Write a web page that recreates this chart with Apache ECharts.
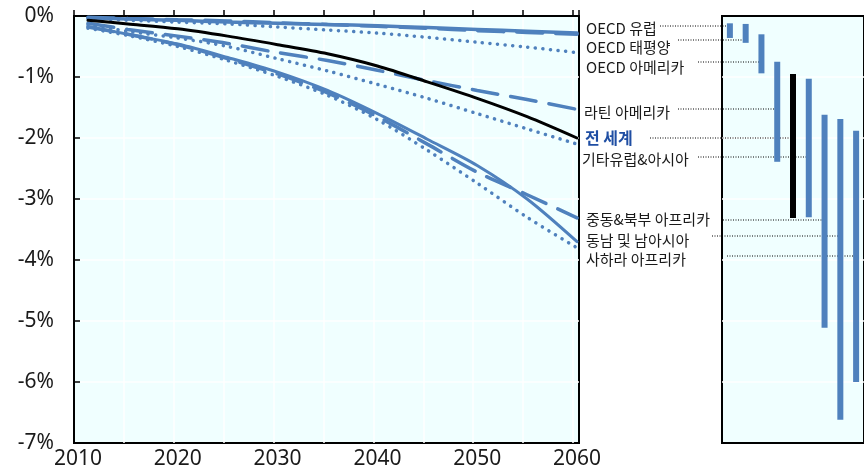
<!DOCTYPE html>
<html>
<head>
<meta charset="utf-8">
<script src="https://cdn.jsdelivr.net/npm/echarts@6/dist/echarts.min.js"></script>
<style>
  html, body { margin: 0; padding: 0; background: #fff; }
  #main { width: 864px; height: 475px; }
</style>
</head>
<body>
<div id="main"></div>
<script>
var dom = document.getElementById('main');
var myChart = echarts.init(dom, null, { renderer: 'canvas' });

// years of the line points
var years = [2011, 2015, 2020, 2025, 2030, 2035, 2040, 2045, 2050, 2055, 2060];
var yearLabels = [2010, 2020, 2030, 2040, 2050, 2060];

// line series, % change
var oecdEurope   = [-0.03, -0.05, -0.07, -0.1, -0.12, -0.14, -0.16, -0.19, -0.22, -0.25, -0.28];
var oecdPacific  = [-0.02, -0.04, -0.06, -0.08, -0.11, -0.14, -0.17, -0.2, -0.24, -0.27, -0.3];
var oecdAmerica  = [-0.04, -0.07, -0.1, -0.13, -0.18, -0.23, -0.28, -0.35, -0.43, -0.51, -0.6];
var latinAmerica = [-0.12, -0.22, -0.33, -0.45, -0.6, -0.73, -0.89, -1.06, -1.22, -1.37, -1.53];
var world        = [-0.07, -0.13, -0.21, -0.33, -0.47, -0.62, -0.82, -1.08, -1.35, -1.65, -2.0];
var otherEurAsia = [-0.14, -0.25, -0.36, -0.5, -0.7, -0.9, -1.12, -1.35, -1.6, -1.85, -2.1];
var meNorthAfr   = [-0.18, -0.3, -0.47, -0.7, -0.95, -1.26, -1.65, -2.1, -2.56, -2.93, -3.31];
var southAsia    = [-0.17, -0.3, -0.46, -0.68, -0.92, -1.22, -1.6, -2.02, -2.45, -3.0, -3.7];
var subSahara    = [-0.2, -0.32, -0.5, -0.73, -0.99, -1.3, -1.7, -2.2, -2.74, -3.3, -3.8];

// right panel: ranges
var regions = ['OECD 유럽', 'OECD 태평양', 'OECD 아메리카', '라틴 아메리카', '전 세계',
               '기타유럽&아시아', '중동&북부 아프리카', '동남 및 남아시아', '사하라 아프리카'];
var rangeTop    = [-0.12, -0.13, -0.30, -0.75, -0.95, -1.03, -1.62, -1.69, -1.88];
var rangeBottom = [-0.36, -0.44, -0.94, -2.39, -3.31, -3.30, -5.11, -6.62, -6.00];

// label layout (pixels): text centre y, leader y, leader start x, text x
var labelTextY  = [28, 47, 67, 112, 138, 159, 219, 240, 259];
var leaderY     = [26, 40, 62, 109, 138, 157, 220, 236, 256];
var leaderX0    = [660, 678, 698, 678, 650, 698, 723, 712, 727];
var labelX      = [586, 586, 586, 584, 585, 582, 586, 586, 586];

var gridTop = 16;
var panelLeft = 722;

var blue = '#4f81bd';
var dotStyle = [0.1, 7.5];
var dashStyle = [26, 13];

function pairs(vals) {
  return years.map(function (y, i) { return [y, vals[i]]; });
}

function lineSeries(name, vals, color, type, width) {
  return {
    name: name,
    type: 'line',
    xAxisIndex: 0,
    yAxisIndex: 0,
    data: pairs(vals),
    smooth: 0.3,
    showSymbol: false,
    lineStyle: { color: color, width: width, type: type, cap: 'round' },
    z: color === '#000' ? 5 : 3
  };
}

var option = {
  animation: false,
  textStyle: { fontFamily: 'Noto Sans CJK KR' },
  grid: [
    { left: 74, top: gridTop, width: 505, height: 427, show: true,
      backgroundColor: '#f0ffff', borderColor: '#000', borderWidth: 2 },
    { left: panelLeft, top: gridTop, width: 150, height: 427, show: true,
      backgroundColor: '#f0ffff', borderColor: '#000', borderWidth: 2 }
  ],
  xAxis: [
    {
      type: 'value', gridIndex: 0, position: 'bottom',
      min: 2009.6, max: 2060.2,
      axisLine: { show: false }, axisTick: { show: false }, splitLine: { show: false },
      axisLabel: {
        customValues: yearLabels, margin: 6,
        formatter: function (v) { return String(Math.round(v)); },
        fontSize: 21, color: '#1a1a1a', fontFamily: 'Noto Sans'
      }
    },
    {
      // ticks and vertical grid lines, counted in years from the left edge
      type: 'value', gridIndex: 0, position: 'top',
      min: 0, max: 50.6, interval: 5,
      axisLine: { show: true, onZero: false, lineStyle: { color: '#000', width: 2 } },
      axisTick: { show: true, inside: false, length: 6, lineStyle: { color: '#000', width: 1.5 } },
      axisLabel: { show: false },
      splitLine: { show: true, showMinLine: false, showMaxLine: false,
                   lineStyle: { color: '#ffffff', width: 1.5 } }
    },
    {
      type: 'category', gridIndex: 1, data: regions, position: 'top', z: 10,
      axisLine: { show: true, onZero: false, lineStyle: { color: '#000', width: 2 } },
      axisTick: { show: false },
      axisLabel: { show: false }, splitLine: { show: false }
    }
  ],
  yAxis: [
    {
      type: 'value', gridIndex: 0, min: -7, max: 0, interval: 1,
      axisLine: { show: true, lineStyle: { color: '#000', width: 2 } },
      axisTick: { show: true, inside: true, length: 6, lineStyle: { color: '#000', width: 1.5 } },
      axisLabel: {
        formatter: function (v) { return v + '%'; },
        fontSize: 21, color: '#1a1a1a', margin: 20, fontFamily: 'Noto Sans'
      },
      splitLine: { show: true, showMinLine: false, showMaxLine: false,
                   lineStyle: { color: '#ffffff', width: 1.5 } }
    },
    {
      type: 'value', gridIndex: 1, min: -7, max: 0, interval: 1,
      axisLine: { show: false }, axisTick: { show: false }, axisLabel: { show: false },
      splitLine: { show: true, showMinLine: false, showMaxLine: false,
                   lineStyle: { color: '#ffffff', width: 1.5 } }
    }
  ],
  series: [
    lineSeries('OECD 유럽', oecdEurope, blue, 'solid', 3.5),
    lineSeries('OECD 태평양', oecdPacific, blue, dashStyle, 3.5),
    lineSeries('OECD 아메리카', oecdAmerica, blue, dotStyle, 3.5),
    lineSeries('라틴 아메리카', latinAmerica, blue, dashStyle, 3.5),
    lineSeries('기타유럽&아시아', otherEurAsia, blue, dotStyle, 3.5),
    lineSeries('중동&북부 아프리카', meNorthAfr, blue, dashStyle, 3.5),
    lineSeries('동남 및 남아시아', southAsia, blue, 'solid', 3),
    lineSeries('사하라 아프리카', subSahara, blue, dotStyle, 3.5),
    lineSeries('전 세계', world, '#000', 'solid', 3),
    // empty series so the tick axis gets drawn
    { name: 'ticks', type: 'line', xAxisIndex: 1, yAxisIndex: 0, data: [], silent: true },
    {
      name: 'base', type: 'bar', xAxisIndex: 2, yAxisIndex: 1, stack: 'range',
      barWidth: 6, itemStyle: { color: 'transparent' },
      data: rangeTop, z: 4
    },
    {
      name: 'range', type: 'bar', xAxisIndex: 2, yAxisIndex: 1, stack: 'range',
      barWidth: 6,
      data: rangeTop.map(function (t, i) {
        return {
          value: +(rangeBottom[i] - t).toFixed(2),
          itemStyle: { color: regions[i] === '전 세계' ? '#000' : blue }
        };
      }),
      z: 4
    }
  ]
};

myChart.setOption(option);

// labels and dotted leader lines to the bars
var graphics = [];
regions.forEach(function (name, i) {
  var barX = myChart.convertToPixel({ xAxisIndex: 2 }, i);
  var isWorld = name === '전 세계';
  graphics.push({
    type: 'text', x: labelX[i], y: labelTextY[i], z: 10,
    style: {
      text: name,
      fill: isWorld ? '#1f4ea3' : '#1a1a1a',
      font: (isWorld ? 'bold 16px' : '15px') + ' "Noto Sans CJK KR"',
      verticalAlign: 'middle'
    }
  });
  graphics.push({
    type: 'line', z: 3,
    shape: { x1: leaderX0[i], y1: leaderY[i], x2: barX + 2, y2: leaderY[i] },
    style: { stroke: '#000', lineWidth: 1, lineDash: [1, 1.5] }
  });
});

// top edge of the right panel
graphics.push({
  type: 'rect', z: 20,
  shape: { x: panelLeft - 1, y: gridTop - 1, width: 864 - panelLeft + 1, height: 2 },
  style: { fill: '#000' }
});
myChart.setOption({ graphic: graphics });
</script>
</body>
</html>
